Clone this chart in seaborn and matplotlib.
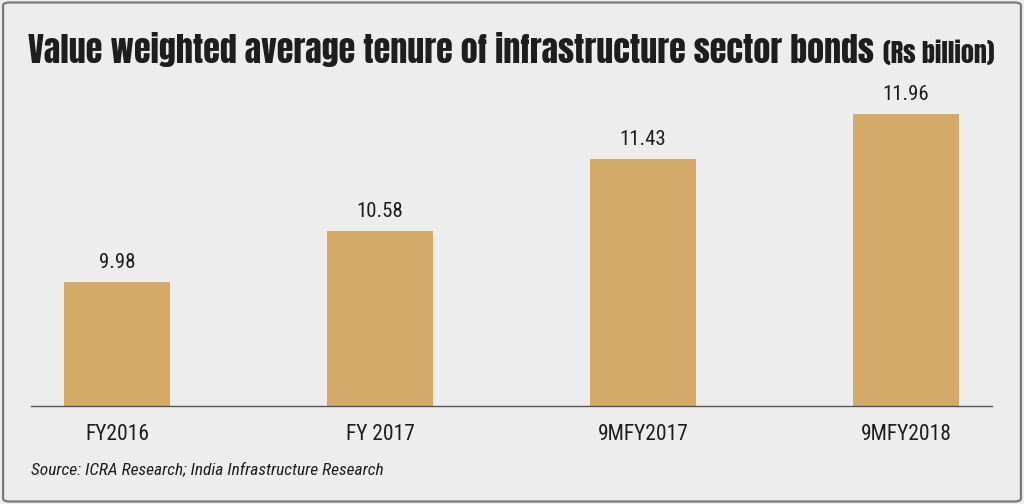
import matplotlib
matplotlib.use("Agg")
import matplotlib.pyplot as plt
import seaborn as sns
from matplotlib import font_manager as fm
from matplotlib.patches import FancyBboxPatch
from matplotlib.ticker import FixedLocator

# ---- data ----
periods = ["FY2016", "FY 2017", "9MFY2017", "9MFY2018"]
tenure = [9.98, 10.58, 11.43, 11.96]
value_labels = ["9.98", "10.58", "11.43", "11.96"]

BG = "#ededed"
BAR = "#d3aa67"
INK = "#1e1e1e"

installed = {f.name for f in fm.fontManager.ttflist}


def pick(cands):
    for c in cands:
        if c in installed:
            return c
    return "DejaVu Sans"


TITLE_FONT = pick(["Anton", "Oswald", "Fjalla One", "Bebas Neue", "Liberation Sans Narrow"])
BODY_FONT = pick(["Roboto Condensed", "Archivo Narrow", "Liberation Sans Narrow",
                  "Sofia Sans Condensed", "Saira SemiCondensed"])

sns.set_style("white")
plt.rcParams["font.family"] = [BODY_FONT, "DejaVu Sans"]

fig = plt.figure(figsize=(10.24, 5.04), dpi=100, facecolor=BG)
ax = fig.add_axes([31 / 1024, 1 - 406 / 504, 961 / 1024, 321 / 504])
ax.set_facecolor(BG)

sns.barplot(x=periods, y=tenure, color=BAR, width=0.40, saturation=1,
            linewidth=0, edgecolor="none", ax=ax)

ax.set_xlim(-0.327, 3.327)
ax.set_ylim(8.52, 12.30)

# value labels above bars
for i, (v, lab) in enumerate(zip(tenure, value_labels)):
    ax.annotate(lab, (i, v), xytext=(0, 7), textcoords="offset points",
                ha="center", va="bottom", fontsize=15, color=INK)

for s in ["top", "right", "left"]:
    ax.spines[s].set_visible(False)
ax.spines["bottom"].set_color("#555555")
ax.spines["bottom"].set_linewidth(1.0)
ax.set_yticks([])
ax.set_xlabel("")
ax.set_ylabel("")
ax.xaxis.set_minor_locator(FixedLocator([0.5, 1.5, 2.5]))
ax.tick_params(axis="x", which="major", length=0, pad=13, labelsize=15.5, labelcolor=INK)
ax.tick_params(axis="x", which="minor", length=4, width=1, color="#555555", direction="out")


def fit_text(x_px, base_px, s, width_px, **kw):
    # shrink/grow font so the text spans width_px
    t = fig.text(x_px / 1024, 1 - base_px / 504, s, ha="left", va="baseline", **kw)
    fig.canvas.draw()
    w = t.get_window_extent().width
    t.set_fontsize(t.get_fontsize() * width_px / w)
    fig.canvas.draw()
    return t


# title
fit_text(28, 63, "Value weighted average tenure of infrastructure sector bonds", 842,
         fontsize=30, family=[TITLE_FONT, "DejaVu Sans"], color=INK)
fit_text(883, 63, "(Rs billion)", 112,
         fontsize=18, family=[TITLE_FONT, "DejaVu Sans"], color=INK)

# source
fit_text(31, 474, "Source: ICRA Research; India Infrastructure Research", 353,
         fontsize=12.5, style="italic", color=INK)

# border frame
frame = FancyBboxPatch((0.003, 0.005), 0.994, 0.99, boxstyle="round,pad=0,rounding_size=0.006",
                       transform=fig.transFigure, facecolor="none", edgecolor="#7a7a7a",
                       linewidth=1.6, zorder=10)
fig.patches.append(frame)

fig.savefig("out.png", dpi=100, facecolor=BG)
